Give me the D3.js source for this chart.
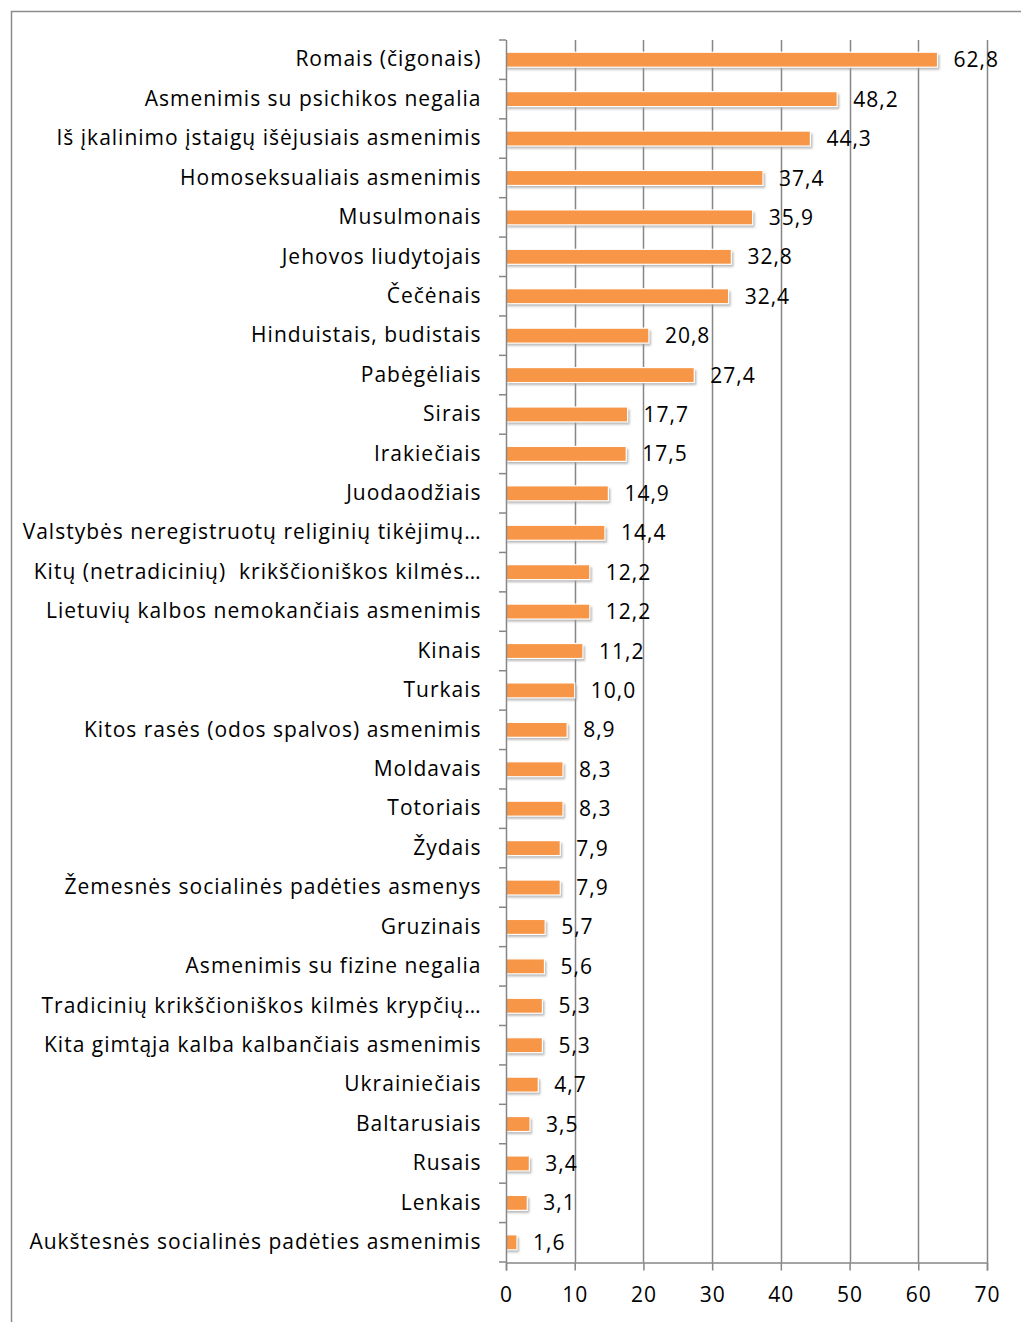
<!DOCTYPE html>
<html>
<head>
<meta charset="utf-8">
<script src="https://cdn.jsdelivr.net/npm/d3@7"></script>
<style>
  body { margin: 0; background: #fff; }
  svg text { font-family: "Open Sans", Lato, sans-serif; fill: #000; white-space: pre; letter-spacing: 1px; }
</style>
</head>
<body>
<svg id="chart" width="1021" height="1322"></svg>
<script>
// categories, top to bottom
var categories = [
  "Romais (čigonais)",
  "Asmenimis su psichikos negalia",
  "Iš įkalinimo įstaigų išėjusiais asmenimis",
  "Homoseksualiais asmenimis",
  "Musulmonais",
  "Jehovos liudytojais",
  "Čečėnais",
  "Hinduistais, budistais",
  "Pabėgėliais",
  "Sirais",
  "Irakiečiais",
  "Juodaodžiais",
  "Valstybės neregistruotų religinių tikėjimų…",
  "Kitų (netradicinių)  krikščioniškos kilmės…",
  "Lietuvių kalbos nemokančiais asmenimis",
  "Kinais",
  "Turkais",
  "Kitos rasės (odos spalvos) asmenimis",
  "Moldavais",
  "Totoriais",
  "Žydais",
  "Žemesnės socialinės padėties asmenys",
  "Gruzinais",
  "Asmenimis su fizine negalia",
  "Tradicinių krikščioniškos kilmės krypčių…",
  "Kita gimtąja kalba kalbančiais asmenimis",
  "Ukrainiečiais",
  "Baltarusiais",
  "Rusais",
  "Lenkais",
  "Aukštesnės socialinės padėties asmenimis"
];

var values = [62.8, 48.2, 44.3, 37.4, 35.9, 32.8, 32.4, 20.8, 27.4, 17.7, 17.5, 14.9,
  14.4, 12.2, 12.2, 11.2, 10.0, 8.9, 8.3, 8.3, 7.9, 7.9, 5.7, 5.6, 5.3, 5.3, 4.7,
  3.5, 3.4, 3.1, 1.6];

var xTicks = [0, 10, 20, 30, 40, 50, 60, 70];

var data = categories.map(function(c, i) { return {name: c, value: values[i]}; });

var svg = d3.select("#chart"),
    plotLeft = 506, plotRight = 987, plotTop = 40, plotBottom = 1262;

var gridColor = "#868686",
    barColor = "#F79646",
    fontSize = "21px";

// outer frame (runs off the picture on right and bottom)
svg.append("rect")
    .attr("x", 11.5).attr("y", 11.5)
    .attr("width", 1040).attr("height", 1340)
    .attr("fill", "none")
    .attr("stroke", "#8c8c8c")
    .attr("stroke-width", 1.5);

var x = d3.scaleLinear().domain([0, 70]).range([plotLeft, plotRight]);
var y = d3.scaleBand().domain(categories).range([plotTop, plotBottom]).paddingInner(0.62).paddingOuter(0.31);

var defs = svg.append("defs");
defs.append("filter").attr("id", "shadow")
    .attr("x", "-20%").attr("y", "-50%").attr("width", "140%").attr("height", "200%")
  .append("feGaussianBlur").attr("stdDeviation", 1.2);

// vertical gridlines
svg.append("g").selectAll("line")
    .data(xTicks.slice(1))
  .enter().append("line")
    .attr("x1", function(d) { return Math.round(x(d)) + 0.5; })
    .attr("x2", function(d) { return Math.round(x(d)) + 0.5; })
    .attr("y1", plotTop).attr("y2", plotBottom)
    .attr("stroke", gridColor).attr("stroke-width", 1.5);

// bars: shadow then bar with white edge
var bars = svg.append("g");
bars.selectAll(".shadow")
    .data(data)
  .enter().append("rect")
    .attr("class", "shadow")
    .attr("x", x(0) + 1)
    .attr("y", function(d) { return y(d.name) + 2.5; })
    .attr("width", function(d) { return x(d.value) - x(0) + 1; })
    .attr("height", y.bandwidth())
    .attr("fill", "#9a9a9a")
    .attr("opacity", 0.7)
    .attr("filter", "url(#shadow)");

bars.selectAll(".bar")
    .data(data)
  .enter().append("rect")
    .attr("class", "bar")
    .attr("x", x(0))
    .attr("y", function(d) { return y(d.name); })
    .attr("width", function(d) { return x(d.value) - x(0); })
    .attr("height", y.bandwidth())
    .attr("fill", barColor)
    .attr("stroke", "#fff")
    .attr("stroke-width", 1.2);

// value labels
svg.append("g").selectAll("text")
    .data(data)
  .enter().append("text")
    .attr("x", function(d) { return x(d.value) + 16; })
    .attr("y", function(d) { return y(d.name) + y.bandwidth() / 2; })
    .attr("dy", "0.36em")
    .style("font-size", fontSize)
    .text(function(d) { return d3.format(".1f")(d.value).replace(".", ","); });

// category axis
var yAxis = svg.append("g")
    .attr("transform", "translate(" + (plotLeft + 0.5) + ",0)")
    .call(d3.axisLeft(y).tickSize(0).tickPadding(25));
yAxis.select(".domain").attr("stroke", gridColor).attr("stroke-width", 1.5)
    .attr("d", "M0," + plotTop + "V" + plotBottom);
yAxis.selectAll("text").style("font-size", fontSize).style("font-family", "'Open Sans', Lato, sans-serif");

// tick marks between categories
var step = y.step();
svg.append("g").selectAll("line")
    .data(d3.range(categories.length + 1))
  .enter().append("line")
    .attr("x1", plotLeft - 7).attr("x2", plotLeft)
    .attr("y1", function(i) { return plotTop + i * step; })
    .attr("y2", function(i) { return plotTop + i * step; })
    .attr("stroke", gridColor).attr("stroke-width", 1.5);

// value axis
var xAxis = svg.append("g")
    .attr("transform", "translate(0," + (plotBottom + 0.5) + ")")
    .call(d3.axisBottom(x).tickValues(xTicks).tickSize(8).tickPadding(17).tickFormat(d3.format("d")));
xAxis.select(".domain").attr("stroke", gridColor).attr("stroke-width", 1.5);
xAxis.selectAll(".tick line").attr("stroke", gridColor).attr("stroke-width", 1.5);
xAxis.selectAll("text").style("font-size", fontSize).style("font-family", "'Open Sans', Lato, sans-serif");
</script>
</body>
</html>
